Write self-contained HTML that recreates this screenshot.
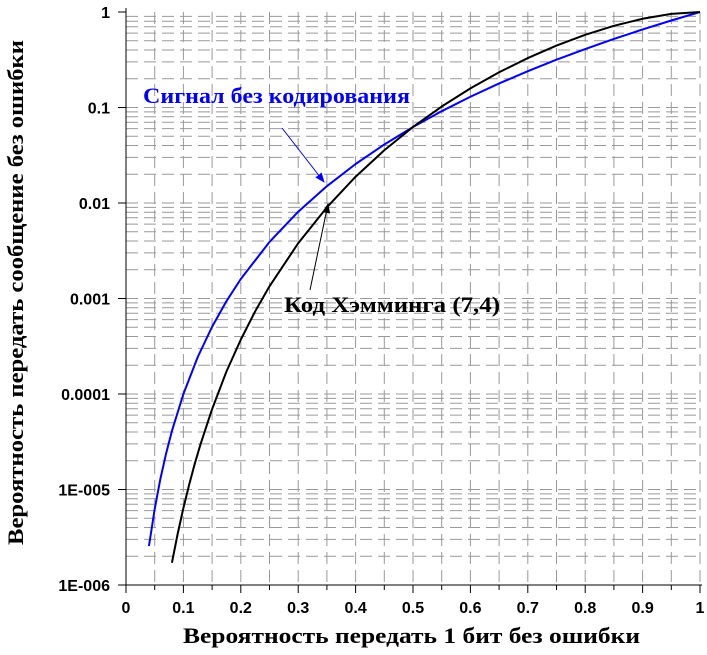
<!DOCTYPE html>
<html><head><meta charset="utf-8"><style>
body{margin:0;background:#fff}
svg{font-family:"Liberation Serif",serif}
.tk{font-family:"Liberation Sans",sans-serif;font-weight:bold;font-size:16px}
</style></head><body>
<svg id="c" width="707" height="650" xmlns="http://www.w3.org/2000/svg">
<defs>
<marker id="ab" markerWidth="10" markerHeight="8" refX="9" refY="4" orient="auto"><path d="M0,0 L10,4 L0,8 z" fill="#0000ff"/></marker>
<marker id="ak" markerWidth="10" markerHeight="8" refX="9" refY="4" orient="auto"><path d="M0,0 L10,4 L0,8 z" fill="#000"/></marker>
</defs>
<g id="grid"></g>
<g id="axes"></g>
<g id="series"></g>
<text x="143" y="103" fill="#0000ff" font-size="22" font-weight="bold" textLength="267" lengthAdjust="spacingAndGlyphs">Сигнал без кодирования</text>
<line x1="282" y1="128" x2="324" y2="182" stroke="#0000ff" stroke-width="1" marker-end="url(#ab)"/>
<text x="284" y="312" fill="#000" font-size="22" font-weight="bold" textLength="216" lengthAdjust="spacingAndGlyphs">Код Хэмминга (7,4)</text>
<line x1="310" y1="290" x2="328" y2="204" stroke="#000" stroke-width="1" marker-end="url(#ak)"/>
<text x="183" y="643" font-size="22" font-weight="bold" textLength="457" lengthAdjust="spacingAndGlyphs">Вероятность передать 1 бит без ошибки</text>
<text transform="translate(23,545) rotate(-90)" font-size="22" font-weight="bold" textLength="505" lengthAdjust="spacingAndGlyphs">Вероятность передать сообщение без ошибки</text>
</svg>
<script>
const xTicks=[0,0.1,0.2,0.3,0.4,0.5,0.6,0.7,0.8,0.9,1];
const xTickLabels=["0","0.1","0.2","0.3","0.4","0.5","0.6","0.7","0.8","0.9","1"];
const yTicks=[1e-6,1e-5,1e-4,1e-3,1e-2,0.1,1];
const yTickLabels=["1E-006","1E-005","0.0001","0.001","0.01","0.1","1"];
const uncodedX=[0.04,0.05,0.06,0.07,0.08,0.1,0.125,0.15,0.175,0.2,0.25,0.3,0.35,0.4,0.45,0.5,0.55,0.6,0.65,0.7,0.75,0.8,0.85,0.9,0.95,1];
const uncodedY=[2.56e-6,6.25e-6,1.3e-5,2.4e-5,4.1e-5,1e-4,2.44e-4,5.06e-4,9.38e-4,1.6e-3,3.91e-3,8.1e-3,1.5e-2,2.56e-2,4.1e-2,6.25e-2,9.15e-2,0.1296,0.1785,0.2401,0.3164,0.4096,0.522,0.6561,0.8145,1];
const hammingX=[0.08,0.09,0.1,0.11,0.12,0.13,0.15,0.175,0.2,0.225,0.25,0.3,0.35,0.4,0.45,0.5,0.55,0.6,0.65,0.7,0.75,0.8,0.85,0.9,0.95,1];
const hammingY=[1.71e-6,3.43e-6,6.4e-6,1.12e-5,1.88e-5,3.0e-5,6.95e-5,1.72e-4,3.71e-4,7.33e-4,1.343e-3,3.79e-3,9.0e-3,1.884e-2,3.57e-2,6.25e-2,0.1024,0.1586,0.2338,0.3294,0.445,0.5767,0.7165,0.8503,0.9556,1];
const X0=126,X1=700,Y0=585,Y1=12;
const sx=v=>X0+(X1-X0)*v;
const sy=v=>Y0-(Y0-Y1)*(Math.log10(v)+6)/6;
const NS="http://www.w3.org/2000/svg";
function mk(t,a,p){const e=document.createElementNS(NS,t);for(const k in a)e.setAttribute(k,a[k]);p.appendChild(e);return e;}
const g=document.getElementById('grid'),ax=document.getElementById('axes'),se=document.getElementById('series');
for(let i=1;i<=20;i++){const x=sx(i*0.05);
 const l=mk('line',{x1:x,y1:Y1,x2:x,y2:Y0,stroke:'#999','stroke-dasharray':'12,6'},g);
 
 }
for(let d=-6;d<0;d++)for(let m=1;m<=9;m++){const v=m*Math.pow(10,d);if(d==-6&&m==1)continue;const y=sy(v);
 const l=mk('line',{x1:X0,y1:y,x2:X1,y2:y,stroke:'#999','stroke-dasharray':'12,6'},g);
 
 }
mk('line',{x1:X0,y1:Y1-4,x2:X0,y2:Y0,stroke:'#000'},ax);
mk('line',{x1:X0,y1:Y0,x2:X1+2,y2:Y0,stroke:'#000'},ax);
for(let i=0;i<=20;i++){const x=sx(i*0.05);mk('line',{x1:x,y1:Y0,x2:x,y2:Y0+(i%2?5:8),stroke:'#000'},ax);}
xTicks.forEach((v,i)=>{const t=mk('text',{x:sx(v),y:613,'text-anchor':'middle',class:'tk'},ax);t.textContent=xTickLabels[i];
 
 });
yTicks.forEach((v,i)=>{const y=sy(v);mk('line',{x1:X0-8,y1:y,x2:X0,y2:y,stroke:'#000'},ax);
 const t=mk('text',{x:X0-16,y:y+6,'text-anchor':'end',class:'tk'},ax);t.textContent=yTickLabels[i];
 
 });
function line(xs,ys,c,n){const p=mk('polyline',{points:xs.map((x,i)=>sx(x)+','+sy(ys[i])).join(' '),fill:'none',stroke:c,'stroke-width':2,'stroke-linejoin':'round'},se);
 
 }
line(uncodedX,uncodedY,'#0000ff','uncoded-line');
line(hammingX,hammingY,'#000','hamming-line');
</script>
</body></html>
